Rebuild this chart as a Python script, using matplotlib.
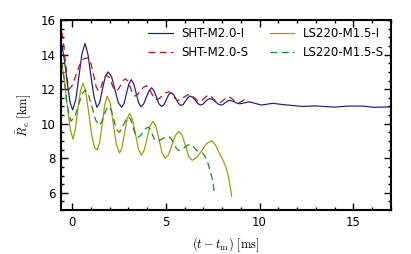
import matplotlib
matplotlib.use("Agg")
import matplotlib.pyplot as plt
from matplotlib.ticker import MultipleLocator

plt.rcParams['mathtext.fontset'] = 'cm'
plt.rcParams['font.family'] = ['DejaVu Sans']

labels = ["SHT-M2.0-I", "SHT-M2.0-S", "LS220-M1.5-I", "LS220-M1.5-S"]
colors = ["#1a1a80", "#b01818", "#999900", "#1f8a1f"]
styles = ["-", "--", "-", "--"]

sht_i_t = [-0.55, -0.4, -0.25, -0.1, 0.03, 0.2, 0.36, 0.52, 0.69, 0.85, 1.0, 1.16, 1.32, 1.47, 1.62, 1.78,
           1.93, 2.11, 2.29, 2.47, 2.65, 2.78, 2.9, 3.03, 3.16, 3.29, 3.42, 3.55, 3.68, 3.82, 3.96, 4.1,
           4.24, 4.37, 4.5, 4.63, 4.77, 4.9, 5.03, 5.15, 5.28, 5.42, 5.55, 5.69, 5.82, 5.94, 6.06, 6.18,
           6.3, 6.44, 6.58, 6.71, 6.85, 6.98, 7.1, 7.23, 7.35, 7.5, 7.65, 7.8, 7.95, 8.06, 8.17, 8.29,
           8.4, 8.54, 8.68, 8.81, 8.95, 9.2, 9.45, 9.78, 10.1, 10.4, 10.7, 11.0, 11.3, 11.8, 12.3, 13.0,
           13.5, 14.0, 14.7, 15.5, 16.1, 16.9]
sht_i_r = [14.6, 13.6, 12.3, 11.2, 10.8, 11.4, 12.7, 14.0, 14.65, 14.0, 12.8, 11.6, 10.95, 11.2, 12.0, 12.75,
           13.0, 12.7, 11.95, 11.2, 10.95, 11.2, 11.75, 12.3, 12.55, 12.3, 11.75, 11.2, 10.98, 11.15, 11.53, 11.9,
           12.08, 11.9, 11.55, 11.15, 11.0, 11.1, 11.4, 11.68, 11.78, 11.68, 11.42, 11.15, 11.05, 11.13, 11.33, 11.52,
           11.6, 11.52, 11.34, 11.16, 11.08, 11.13, 11.27, 11.4, 11.45, 11.4, 11.27, 11.13, 11.08, 11.12, 11.22, 11.31,
           11.35, 11.32, 11.25, 11.18, 11.15, 11.21, 11.27, 11.17, 11.08, 11.13, 11.18, 11.14, 11.1, 11.05, 11.0, 11.03,
           10.99, 10.96, 11.02, 11.02, 10.95, 10.97]

sht_s_t = [-0.55, -0.45, -0.35, -0.25, -0.15, 0.0, 0.2, 0.4, 0.6, 0.85, 1.0, 1.15, 1.28, 1.4, 1.52, 1.63,
           1.74, 1.85, 1.97, 2.1, 2.22, 2.35, 2.47, 2.6, 2.72, 2.85, 2.97, 3.1, 3.22, 3.35, 3.5, 3.65,
           3.8, 3.95, 4.09, 4.22, 4.36, 4.5, 4.66, 4.82, 4.99, 5.15, 5.27, 5.4, 5.52, 5.65, 5.8, 5.95,
           6.1, 6.25, 6.39, 6.52, 6.66, 6.8, 6.92, 7.05, 7.17, 7.3, 7.42, 7.55, 7.67, 7.8, 7.94, 8.08,
           8.21, 8.35, 8.47, 8.6, 8.72, 8.85, 9.0, 9.15, 9.3]
sht_s_r = [15.3, 14.6, 13.5, 12.5, 12.0, 12.2, 12.8, 13.4, 13.75, 13.82, 13.5, 12.8, 12.15, 11.9, 12.05, 12.4,
           12.7, 12.8, 12.7, 12.35, 12.02, 11.9, 12.0, 12.25, 12.5, 12.6, 12.47, 12.12, 11.75, 11.6, 11.7, 11.9,
           12.1, 12.2, 12.08, 11.8, 11.52, 11.4, 11.47, 11.63, 11.78, 11.85, 11.78, 11.6, 11.42, 11.35, 11.4, 11.52,
           11.63, 11.7, 11.64, 11.5, 11.36, 11.3, 11.35, 11.47, 11.59, 11.65, 11.58, 11.42, 11.27, 11.2, 11.25, 11.37,
           11.5, 11.55, 11.5, 11.37, 11.25, 11.2, 11.26, 11.37, 11.45]

ls_i_t = [-0.55, -0.4, -0.25, -0.1, 0.05, 0.18, 0.3, 0.45, 0.58, 0.72, 0.88, 1.05, 1.2, 1.34, 1.47, 1.6,
          1.74, 1.87, 2.03, 2.2, 2.36, 2.53, 2.66, 2.8, 2.94, 3.07, 3.22, 3.38, 3.53, 3.69, 3.84, 4.0,
          4.15, 4.31, 4.47, 4.64, 4.8, 4.97, 5.15, 5.33, 5.51, 5.69, 5.87, 6.05, 6.22, 6.4, 6.66, 6.92,
          7.18, 7.45, 7.65, 7.84, 8.02, 8.2, 8.3, 8.37, 8.44, 8.51]
ls_i_r = [13.5, 12.4, 11.0, 9.7, 9.1, 9.7, 10.8, 11.9, 12.35, 11.9, 10.7, 9.3, 8.6, 8.49, 8.9, 9.9,
          11.1, 11.6, 11.2, 10.0, 8.8, 8.3, 8.6, 9.45, 10.3, 10.6, 10.25, 9.4, 8.55, 8.18, 8.45, 9.15,
          9.85, 10.14, 9.85, 9.07, 8.3, 8.0, 8.22, 8.78, 9.32, 9.55, 9.33, 8.72, 8.1, 7.88, 8.05, 8.45,
          8.85, 9.02, 8.75, 8.33, 7.95, 7.5, 7.1, 6.76, 6.3, 5.8]

ls_s_t = [-0.55, -0.42, -0.3, -0.17, -0.05, 0.15, 0.35, 0.52, 0.7, 0.88, 1.07, 1.26, 1.45, 1.58, 1.7, 1.83,
          1.95, 2.09, 2.22, 2.36, 2.5, 2.63, 2.75, 2.88, 3.0, 3.13, 3.25, 3.38, 3.5, 3.64, 3.78, 3.91,
          4.05, 4.16, 4.27, 4.39, 4.5, 4.66, 4.83, 4.99, 5.15, 5.29, 5.43, 5.56, 5.7, 5.85, 6.0, 6.15,
          6.3, 6.45, 6.6, 6.8, 6.95, 7.1, 7.25, 7.38, 7.49, 7.58]
ls_s_r = [13.6, 12.6, 11.4, 10.5, 10.15, 10.4, 11.1, 11.7, 11.95, 11.65, 10.95, 10.2, 9.9, 10.1, 10.45, 10.85,
          11.0, 10.8, 10.25, 9.7, 9.5, 9.65, 9.95, 10.25, 10.4, 10.25, 9.8, 9.35, 9.2, 9.3, 9.5, 9.7,
          9.8, 9.7, 9.4, 9.1, 9.0, 9.04, 9.13, 9.22, 9.25, 9.13, 8.85, 8.57, 8.45, 8.5, 8.63, 8.75,
          8.8, 8.7, 8.5, 8.35, 8.3, 8.1, 7.7, 7.2, 6.76, 6.08]

series_t = [sht_i_t, sht_s_t, ls_i_t, ls_s_t]
series_r = [sht_i_r, sht_s_r, ls_i_r, ls_s_r]

fig = plt.figure(figsize=(4.11, 2.54), dpi=100)
ax = fig.add_axes([0.148, 0.173, 0.803, 0.748])

for t, r, lab, c, ls in zip(series_t, series_r, labels, colors, styles):
    if ls == "--":
        ax.plot(t, r, ls, color=c, lw=0.9, label=lab, dashes=(5.5, 3.5))
    else:
        ax.plot(t, r, ls, color=c, lw=0.85, label=lab)

ax.set_xlim(-0.6, 17)
ax.set_ylim(5, 16)
ax.xaxis.set_major_locator(MultipleLocator(5))
ax.xaxis.set_minor_locator(MultipleLocator(1))
ax.yaxis.set_minor_locator(MultipleLocator(0.5))
ax.set_yticks([6, 8, 10, 12, 14, 16])
ax.tick_params(which='both', direction='in', top=True, right=True, labelsize=8.5, width=1.0)
ax.tick_params(which='major', length=5, pad=4)
ax.tick_params(which='minor', length=2.5)
for s in ax.spines.values():
    s.set_linewidth(1.5)

ax.set_xlabel(r'$(t - t_{\rm m})\ [{\rm ms}]$', fontsize=9, labelpad=5)
ax.set_ylabel(r'$\bar{R}_e\ [{\rm km}]$', fontsize=9, labelpad=5)

ax.legend(loc='upper right', ncol=2, frameon=False, fontsize=8.5, handlelength=2.1,
          columnspacing=1.8, labelspacing=0.5, borderaxespad=0.2, handletextpad=0.7)

fig.savefig("out.png", dpi=100)
